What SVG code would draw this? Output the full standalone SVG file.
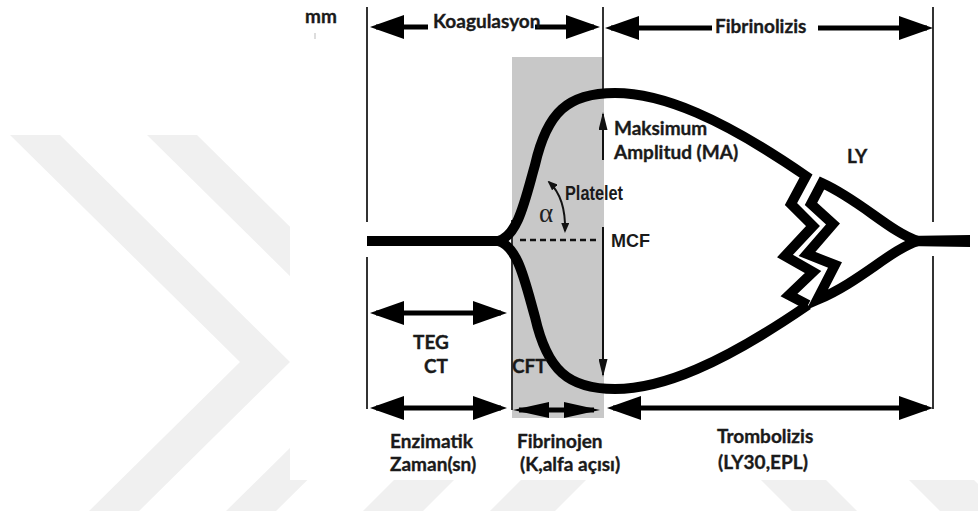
<svg xmlns="http://www.w3.org/2000/svg" width="978" height="511" viewBox="0 0 978 511">
<style>
.wm{fill:#f0f0f0}
.vl{stroke:#333;stroke-width:2;fill:none}
.cv{stroke:#000;stroke-width:10;fill:none;stroke-linejoin:miter;stroke-miterlimit:10}
.sh{stroke:#000;stroke-width:5;fill:none}
.thin{stroke:#111;stroke-width:2;fill:none}
.lb{font-family:Lato,"Open Sans","Liberation Sans",sans-serif;font-weight:bold;font-size:19px;fill:#1a1a1a;stroke:#1a1a1a;stroke-width:0.35}
.ar{font-family:"Liberation Sans",Arial,sans-serif;font-weight:bold;fill:#1a1a1a}
</style>
<defs>
<marker id="ah" viewBox="0 0 34 24" refX="28" refY="12" markerWidth="34" markerHeight="24" markerUnits="userSpaceOnUse" orient="auto-start-reverse"><path d="M0,0 L34,12 L0,24 Z" fill="#000"/></marker>
<marker id="ahm" viewBox="0 0 36 16" refX="30" refY="8" markerWidth="36" markerHeight="16" markerUnits="userSpaceOnUse" orient="auto-start-reverse"><path d="M0,0 L36,8 L0,16 Z" fill="#000"/></marker>
<marker id="ahs" viewBox="0 0 18 9" refX="16" refY="4.5" markerWidth="18" markerHeight="9" markerUnits="userSpaceOnUse" orient="auto-start-reverse"><path d="M0,0 L18,4.5 L0,9 Z" fill="#111"/></marker>
<marker id="aht" viewBox="0 0 10 8" refX="8" refY="4" markerWidth="10" markerHeight="8" markerUnits="userSpaceOnUse" orient="auto-start-reverse"><path d="M0,0 L10,4 L0,8 Z" fill="#111"/></marker>
</defs>
<rect x="0" y="0" width="978" height="511" fill="#fff"/>
<g id="watermark">
<polygon class="wm" points="10,135 60,135 290,362 60,589 10,589 240,362"/>
<polygon class="wm" points="147,135 197,135 427,362 197,589 147,589 377,362"/>
<polygon class="wm" points="394,480 454,480 423,511 363,511"/>
<polygon class="wm" points="521,480 586,480 555,511 490,511"/>
<polygon class="wm" points="761,480 826,480 857,511 792,511"/>
<polygon class="wm" points="909,480 974,480 1005,511 940,511"/>
</g>
<rect x="290" y="0" width="688" height="480" fill="#fff"/>
<g id="band">
<rect x="512" y="57" width="92" height="361" fill="#c8c8c8"/>
</g>
<g id="guides">
<line class="vl" x1="367" y1="7" x2="367" y2="222"/>
<line class="vl" x1="367" y1="257" x2="367" y2="409"/>
<line class="vl" x1="603" y1="7" x2="603" y2="92"/>
<line class="vl" x1="933" y1="7" x2="933" y2="222"/>
<line class="vl" x1="933" y1="256" x2="933" y2="409"/>
<line class="vl" x1="512" y1="220" x2="512" y2="410"/>
<line x1="315" y1="33" x2="315" y2="39" stroke="#ddd" stroke-width="2"/>
</g>
<g id="curve">
<path class="cv" d="M367,241 L500,241"/>
<path class="cv" d="M498,241 C518,236 525,200 535,165 C547,112 568,93 615,93 C662,93 722,118 806,176 L791,204 L813,226 L785,256 L813,272 L789,295 L808,305"/>
<path class="cv" d="M498,241 C518,246 525,282 535,317 C547,370 568,389 615,389 C662,389 722,364 808,305"/>
<path class="cv" d="M918,241 C890,232 860,200 822,183 L811,204 L833,224 L807,254 L835,265 L817,300 C860,282 890,250 918,241 Z"/>
<path d="M905,236 L970,235 L970,247 L905,246 Z" fill="#000"/>
<line x1="520" y1="240" x2="600" y2="240" stroke="#111" stroke-width="2.5" stroke-dasharray="6 4"/>
</g>
<g id="connectors">
<line class="sh" x1="428" y1="27" x2="376" y2="27" marker-end="url(#ah)"/>
<line class="sh" x1="535" y1="27" x2="594" y2="27" marker-end="url(#ah)"/>
<line class="sh" x1="712" y1="28" x2="611" y2="28" marker-end="url(#ah)"/>
<line class="sh" x1="818" y1="28" x2="927" y2="28" marker-end="url(#ah)"/>
<line class="sh" x1="376" y1="313" x2="501" y2="313" marker-start="url(#ah)" marker-end="url(#ah)"/>
<line class="sh" x1="376" y1="408" x2="501" y2="408" marker-start="url(#ah)" marker-end="url(#ah)"/>
<line class="sh" x1="519" y1="410" x2="594" y2="410" marker-start="url(#ahm)" marker-end="url(#ahm)"/>
<line class="sh" x1="613" y1="408" x2="927" y2="408" marker-start="url(#ah)" marker-end="url(#ah)"/>
<line class="thin" x1="603" y1="160" x2="603" y2="114" marker-end="url(#ahs)"/>
<line class="thin" x1="603" y1="227" x2="603" y2="375" marker-end="url(#ahs)"/>
<path class="thin" d="M549,182 Q566,198 565,231" marker-start="url(#aht)" marker-end="url(#aht)"/>
</g>
<g id="labels">
<text class="lb" x="305" y="23">mm</text>
<text class="lb" x="433" y="28">Koagulasyon</text>
<text class="lb" x="715" y="33">Fibrinolizis</text>
<text class="lb" x="614" y="135">Maksimum</text>
<text class="lb" x="614" y="159">Amplitud (MA)</text>
<text class="lb" x="847" y="163">LY</text>
<text class="ar" x="611" y="247" font-size="18">MCF</text>
<text class="ar" x="565" y="200" font-size="20" textLength="58" lengthAdjust="spacingAndGlyphs" fill="#333">Platelet</text>
<text x="539" y="222" font-family="'Liberation Serif','DejaVu Serif',serif" font-size="27" fill="#222">α</text>
<text class="lb" x="413" y="349">TEG</text>
<text class="lb" x="424" y="373">CT</text>
<text class="lb" x="512" y="373">CFT</text>
<text class="lb" x="390" y="448">Enzimatik</text>
<text class="lb" x="390" y="471">Zaman(sn)</text>
<text class="lb" x="517" y="448">Fibrinojen</text>
<text class="lb" x="520" y="471">(K,alfa açısı)</text>
<text class="lb" x="717" y="443">Trombolizis</text>
<text class="lb" x="718" y="469">(LY30,EPL)</text>
</g>
</svg>
